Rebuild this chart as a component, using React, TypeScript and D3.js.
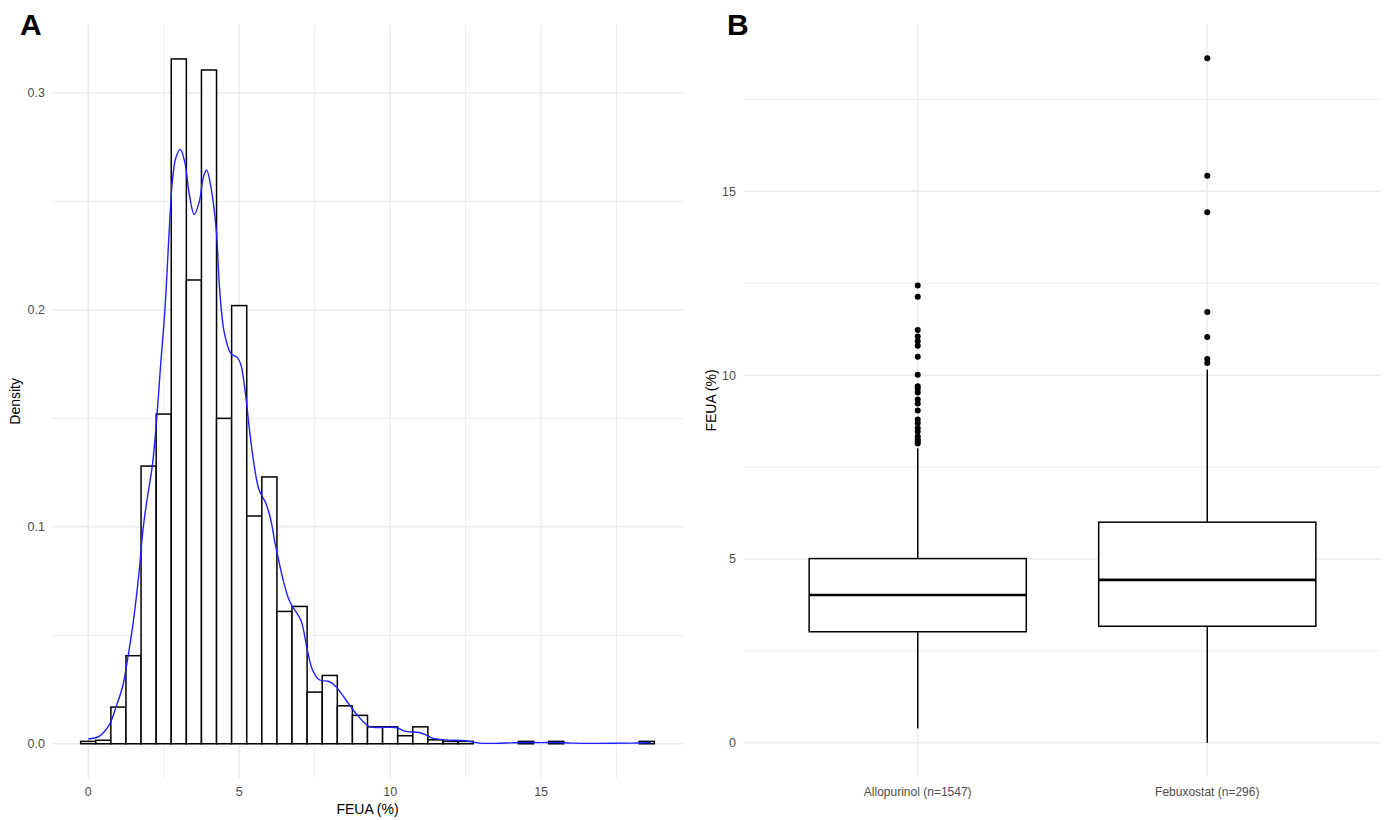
import React from "react";
import * as d3 from "d3";

// histogram: bin centres (width 0.5) and densities
const binCenters = [0, 0.5, 1, 1.5, 2, 2.5, 3, 3.5, 4, 4.5, 5, 5.5, 6, 6.5, 7, 7.5, 8, 8.5, 9, 9.5, 10, 10.5, 11, 11.5, 12, 12.5, 14.5, 15.5, 18.5];
const binDensity = [0.0011, 0.0016, 0.0169, 0.0406, 0.128, 0.152, 0.3157, 0.2138, 0.3106, 0.15, 0.202, 0.105, 0.123, 0.061, 0.0633, 0.0238, 0.0315, 0.0175, 0.0131, 0.0078, 0.0078, 0.0037, 0.0078, 0.0018, 0.0011, 0.0011, 0.0011, 0.0011, 0.0011];
const binWidth = 0.5;

// kernel density curve (blue)
const densX = [0, 0.36, 0.7, 0.92, 1.14, 1.3, 1.47, 1.58, 1.69, 1.8, 1.91, 2.13, 2.28, 2.4, 2.54, 2.7, 2.79, 2.9, 3.05, 3.2, 3.34, 3.51, 3.68, 3.81, 3.92, 4.06, 4.24, 4.35, 4.5, 4.72, 4.94, 5.05, 5.22, 5.33, 5.5, 5.66, 5.88, 6.05, 6.21, 6.66, 7.04, 7.26, 7.43, 7.65, 7.98, 8.2, 8.53, 8.86, 9.3, 9.64, 10.19, 10.52, 10.96, 11.18, 11.4, 11.84, 12.5, 12.95, 13.5, 14.0, 14.5, 15.0, 15.5, 16.0, 17.0, 18.0, 18.64];
const densY = [0.0022, 0.0034, 0.0088, 0.017, 0.0264, 0.0387, 0.054, 0.066, 0.08, 0.097, 0.109, 0.129, 0.152, 0.175, 0.2, 0.241, 0.26, 0.27, 0.274, 0.268, 0.254, 0.244, 0.25, 0.261, 0.2645, 0.257, 0.237, 0.21, 0.19, 0.18, 0.178, 0.175, 0.16, 0.146, 0.128, 0.117, 0.111, 0.103, 0.091, 0.066, 0.057, 0.043, 0.034, 0.0295, 0.0287, 0.0264, 0.0203, 0.0141, 0.008, 0.0075, 0.0075, 0.0057, 0.0052, 0.0041, 0.0026, 0.0018, 0.0014, 0.0003, 0.0002, 0.0004, 0.0006, 0.0005, 0.0006, 0.0003, 0.0002, 0.0003, 0.0005];

const histXTicks = [0, 5, 10, 15];
const histYTicks = [0, 0.1, 0.2, 0.3];

// boxplots
const groups = ["Allopurinol (n=1547)", "Febuxostat (n=296)"];
const boxLow = [0.39, 0];
const boxQ1 = [3.02, 3.17];
const boxMedian = [4.02, 4.43];
const boxQ3 = [5.01, 6.0];
const boxHigh = [8.01, 10.15];
const allopurinolOutliers = [12.44, 12.13, 11.23, 11.05, 10.92, 10.8, 10.5, 10.01, 9.7, 9.63, 9.53, 9.34, 9.23, 9.04, 8.79, 8.7, 8.56, 8.47, 8.33, 8.25, 8.2, 8.14];
const febuxostatOutliers = [18.62, 15.42, 14.43, 11.72, 11.04, 10.44, 10.33];
const boxYTicks = [0, 5, 10, 15];

const FONT = "'Liberation Sans', Arial, sans-serif";
const GRID = "#ebebeb";
const TICK = "#4d4d4d";

function HistogramPanel() {
  const left = 52, right = 683, top = 24.7, bottom = 778;
  const x = d3.scaleLinear().domain([-1.2, 19.7]).range([left, right]);
  const maxD = d3.max(binDensity) as number;
  const y = d3.scaleLinear().domain([-0.05 * maxD, maxD * 1.05]).range([bottom, top]);
  const minorX = histXTicks.map((t) => t + 2.5);
  const minorY = histYTicks.map((t) => t + 0.05);
  const line = d3
    .line<number>()
    .x((d, i) => x(densX[i]))
    .y((d) => y(d))
    .curve(d3.curveCatmullRom);

  return (
    <g>
      {minorY.map((t) => (
        <line key={"my" + t} x1={left} x2={right} y1={y(t)} y2={y(t)} stroke={GRID} strokeWidth={0.9} />
      ))}
      {minorX.map((t) => (
        <line key={"mx" + t} x1={x(t)} x2={x(t)} y1={top} y2={bottom} stroke={GRID} strokeWidth={0.9} />
      ))}
      {histYTicks.map((t) => (
        <line key={"y" + t} x1={left} x2={right} y1={y(t)} y2={y(t)} stroke={GRID} strokeWidth={1.5} />
      ))}
      {histXTicks.map((t) => (
        <line key={"x" + t} x1={x(t)} x2={x(t)} y1={top} y2={bottom} stroke={GRID} strokeWidth={1.5} />
      ))}
      {binCenters.map((c, i) => (
        <rect
          key={"b" + c}
          x={x(c - binWidth / 2)}
          y={y(binDensity[i])}
          width={x(c + binWidth / 2) - x(c - binWidth / 2)}
          height={y(0) - y(binDensity[i])}
          fill="white"
          stroke="black"
          strokeWidth={1.5}
        />
      ))}
      <path d={line(densY) || ""} fill="none" stroke="#1f1fff" strokeWidth={1.4} />
      {histYTicks.map((t) => (
        <text key={"yl" + t} x={left - 7} y={y(t)} dy="0.35em" textAnchor="end" fontSize={12.5} fill={TICK}>
          {d3.format(".1f")(t)}
        </text>
      ))}
      {histXTicks.map((t) => (
        <text key={"xl" + t} x={x(t)} y={792} dy="0.35em" textAnchor="middle" fontSize={12.5} fill={TICK}>
          {t}
        </text>
      ))}
      <text x={(left + right) / 2} y={809} dy="0.35em" textAnchor="middle" fontSize={14} fill="black">
        FEUA (%)
      </text>
      <text transform={`translate(15,${(top + bottom) / 2}) rotate(-90)`} dy="0.35em" textAnchor="middle" fontSize={14} fill="black">
        Density
      </text>
      <text x={20} y={35} fontSize={30} fontWeight="bold" fill="black">A</text>
    </g>
  );
}

function BoxPanel() {
  const left = 744, right = 1381, top = 24, bottom = 777;
  const x = d3.scalePoint<string>().domain(groups).range([left, right]).padding(0.6);
  const step = x.step();
  const maxV = d3.max(febuxostatOutliers) as number;
  const y = d3.scaleLinear().domain([-0.05 * maxV, maxV * 1.05]).range([bottom, top]);
  const minorY = boxYTicks.map((t) => t + 2.5);
  const outliers = [allopurinolOutliers, febuxostatOutliers];
  const half = (step * 0.75) / 2;

  return (
    <g>
      {minorY.map((t) => (
        <line key={"my" + t} x1={left} x2={right} y1={y(t)} y2={y(t)} stroke={GRID} strokeWidth={0.9} />
      ))}
      {boxYTicks.map((t) => (
        <line key={"y" + t} x1={left} x2={right} y1={y(t)} y2={y(t)} stroke={GRID} strokeWidth={1.5} />
      ))}
      {groups.map((g) => (
        <line key={"x" + g} x1={x(g)} x2={x(g)} y1={top} y2={bottom} stroke={GRID} strokeWidth={1.5} />
      ))}
      {groups.map((g, i) => {
        const cx = x(g) as number;
        return (
          <g key={g}>
            <line x1={cx} x2={cx} y1={y(boxHigh[i])} y2={y(boxQ3[i])} stroke="black" strokeWidth={1.5} />
            <line x1={cx} x2={cx} y1={y(boxQ1[i])} y2={y(boxLow[i])} stroke="black" strokeWidth={1.5} />
            <rect
              x={cx - half}
              y={y(boxQ3[i])}
              width={half * 2}
              height={y(boxQ1[i]) - y(boxQ3[i])}
              fill="white"
              stroke="black"
              strokeWidth={1.5}
            />
            <line x1={cx - half} x2={cx + half} y1={y(boxMedian[i])} y2={y(boxMedian[i])} stroke="black" strokeWidth={2.6} />
            {outliers[i].map((v, j) => (
              <circle key={j} cx={cx} cy={y(v)} r={3} fill="black" />
            ))}
          </g>
        );
      })}
      {boxYTicks.map((t) => (
        <text key={"yl" + t} x={left - 8} y={y(t)} dy="0.35em" textAnchor="end" fontSize={12.5} fill={TICK}>
          {t}
        </text>
      ))}
      {groups.map((g) => (
        <text key={"xl" + g} x={x(g)} y={792} dy="0.35em" textAnchor="middle" fontSize={12} fill={TICK}>
          {g}
        </text>
      ))}
      <text transform={`translate(711,${(top + bottom) / 2}) rotate(-90)`} dy="0.35em" textAnchor="middle" fontSize={14} fill="black">
        FEUA (%)
      </text>
      <text x={727} y={35} fontSize={30} fontWeight="bold" fill="black">B</text>
    </g>
  );
}

export default function App() {
  return (
    <svg
      width={1384}
      height={820}
      style={{ position: "absolute", left: 0, top: 0, background: "white" }}
      fontFamily={FONT}
    >
      <rect width={1384} height={820} fill="white" />
      <HistogramPanel />
      <BoxPanel />
    </svg>
  );
}
